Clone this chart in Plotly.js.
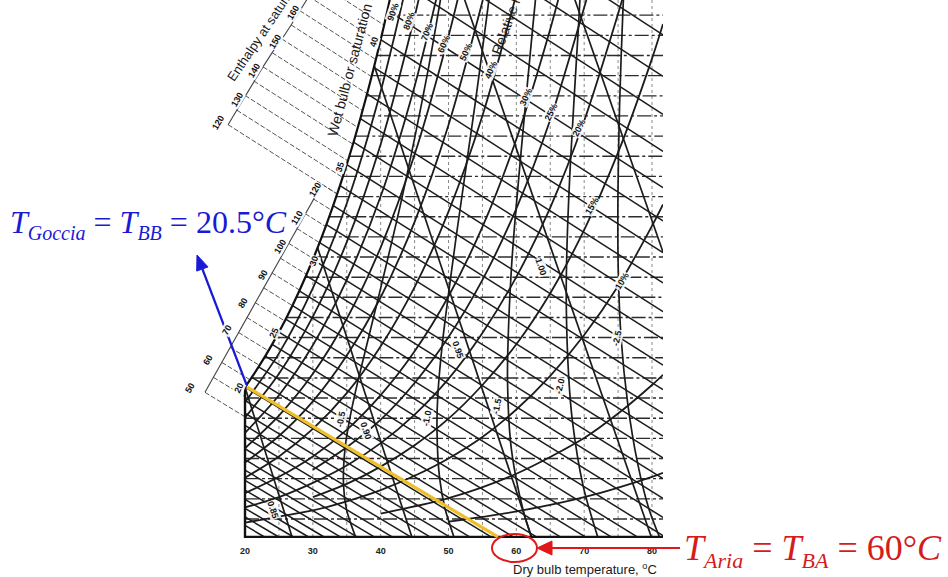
<!DOCTYPE html>
<html>
<head>
<meta charset="utf-8">
<script src="https://cdn.plot.ly/plotly-3.0.1.min.js"></script>
<style>
html,body{margin:0;padding:0;background:#fff;}
#chart{width:948px;height:577px;}
</style>
</head>
<body>
<div id="chart"></div>
<script>
// ---------------- DATA (dry bulb T in °C, humidity H in g water / kg dry air) ----------------
const dryBulbTicks = [20, 30, 40, 50, 60, 70, 80];

// saturation curve
const satT = [20, 22, 24, 26, 28, 30, 32, 34, 36, 38, 40, 41, 42];
const satH = [14.69, 16.67, 18.88, 21.35, 24.12, 27.20, 30.63, 34.44, 38.70, 43.45, 48.75, 51.63, 54.80];

// chart frame (left edge at 20 °C, bottom at H = 0)
const frameT = [20, 20, 81.62];
const frameH = [14.69, 0, 0];

// horizontal humidity grid lines and the dry bulb where each meets saturation
const humidityGrid = [1.76, 3.74, 5.72, 7.69, 9.67, 11.64, 13.62, 15.59, 17.57, 19.55, 21.52, 23.50, 25.47,
  27.45, 29.42, 31.40, 33.37, 35.35, 37.33, 39.30, 41.28, 43.25, 45.23, 47.20, 49.18, 51.16];
const humidityGridDewT = [20, 20, 20, 20, 20, 20, 20, 20.94, 22.84, 24.56, 26.13, 27.57, 28.90,
  30.15, 31.32, 32.42, 33.45, 34.44, 35.37, 36.26, 37.11, 37.92, 38.69, 39.43, 40.15, 40.84];

// vertical dry-bulb grid lines and their top humidity
const dryBulbGrid = [25, 30, 35, 40, 45, 50, 55, 60, 65, 70, 75, 80];
const dryBulbGridTopH = [20.08, 27.20, 36.51, 48.75, 53, 53, 53, 53, 53, 53, 53, 53];

// relative humidity curves
const rhLabels = ['90%', '80%', '70%', '60%', '50%', '40%', '30%', '25%', '20%', '15%', '10%', '5%', '2%'];
const rhT = [
  [20, 25, 30, 35, 40, 44],
  [20, 25, 30, 35, 40, 45, 46],
  [20, 25, 30, 35, 40, 45, 49],
  [20, 25, 30, 35, 40, 45, 50, 52],
  [20, 25, 30, 35, 40, 45, 50, 55, 56],
  [20, 25, 30, 35, 40, 45, 50, 55, 60],
  [20, 25, 30, 35, 40, 45, 50, 55, 60, 65, 67],
  [30, 35, 40, 45, 50, 55, 60, 65, 70, 71],
  [20, 25, 30, 35, 40, 45, 50, 55, 60, 65, 70, 75, 76],
  [30, 35, 40, 45, 50, 55, 60, 65, 70, 75, 80, 81.62],
  [20, 25, 30, 35, 40, 45, 50, 55, 60, 65, 70, 75, 80, 81.62],
  [40, 50, 60, 70, 75, 80, 81.62],
  [50, 60, 70, 80, 81.62]
];
const rhH = [
  [13.2, 18.0, 24.4, 32.7, 43.7, 54.7],
  [11.7, 16.0, 21.6, 28.9, 38.5, 51.0, 53.9],
  [10.2, 13.9, 18.8, 25.2, 33.4, 44.2, 55.0],
  [8.7, 11.9, 16.0, 21.4, 28.4, 37.5, 49.1, 54.5],
  [7.3, 9.9, 13.3, 17.8, 23.5, 30.9, 40.4, 52.5, 55.2],
  [5.8, 7.9, 10.6, 14.1, 18.7, 24.5, 31.9, 41.3, 53.2],
  [4.3, 5.9, 7.9, 10.5, 13.9, 18.2, 23.6, 30.4, 39.0, 49.8, 54.8],
  [6.6, 8.8, 11.5, 15.1, 19.6, 25.2, 32.2, 40.9, 51.9, 54.3],
  [2.9, 3.9, 5.3, 7.0, 9.2, 12.0, 15.5, 20.0, 25.5, 32.3, 40.8, 51.3, 53.6],
  [3.9, 5.2, 6.9, 9.0, 11.6, 14.9, 18.9, 23.9, 30.1, 37.7, 46.9, 50.3],
  [1.4, 2.0, 2.6, 3.5, 4.6, 6.0, 7.7, 9.8, 12.5, 15.8, 19.8, 24.6, 30.5, 32.6],
  [2.3, 3.8, 6.2, 9.7, 12.1, 14.9, 15.9],
  [1.5, 2.5, 3.9, 5.9, 6.3]
];

// wet bulb (adiabatic saturation) lines: start and end points
const wbTw = [7, 8, 9, 10, 11, 12, 13, 14, 15, 16, 17, 18, 19, 20, 21, 22, 23, 24, 25, 26, 27, 28, 29, 30,
  31, 32, 33, 34, 35, 36, 37, 38, 39, 40, 41, 42, 43, 44, 45];
const wbT1 = [20, 20, 20, 20, 20, 20, 20, 20, 20, 20, 20, 20, 20, 20, 21, 22, 23, 24, 25, 26, 27, 28, 29, 30,
  31, 32, 33, 34, 35, 36, 37, 38, 39, 40, 41, 42, 43, 44, 45];
const wbH1 = [1.13, 1.96, 2.81, 3.69, 4.60, 5.56, 6.55, 7.58, 8.65, 9.77, 10.94, 12.13, 13.38, 14.69, 15.65,
  16.67, 17.74, 18.88, 20.08, 21.35, 22.69, 24.12, 25.62, 27.20, 28.86, 30.63, 32.48, 34.44, 36.51, 38.70,
  41.01, 43.45, 46.03, 48.75, 51.63, 54.80, 58.05, 61.37, 65.05];
const wbT2 = [22.88, 24.99, 27.14, 29.37, 31.66, 34.05, 36.50, 39.05, 41.69, 44.43, 47.27, 50.16, 53.11, 56.27,
  59.55, 62.96, 66.48, 70.16, 73.98, 77.82, 81.62, 81.62, 81.62, 81.62, 81.62, 81.62, 81.62, 81.62, 81.62,
  81.62, 81.62, 81.62, 81.62, 81.62, 81.62, 81.62, 81.62, 81.62, 81.62];
const wbH2 = [0, 0, 0, 0, 0, 0, 0, 0, 0, 0, 0, 0, 0, 0, 0, 0, 0, 0, 0, 0, 0.13, 1.92, 3.78, 5.73, 7.75, 9.89,
  12.11, 14.44, 16.84, 19.40, 22.09, 24.91, 27.87, 30.98, 34.24, 37.80, 41.44, 45.16, 49.23];
const wetBulbLabels = [20, 25, 30, 35, 40];

// humid volume lines, m3/kg dry air
const volLabels = ['0.85', '0.90', '0.95', '1.00', '1.05'];
const volT1 = [26.94, 44.60, 62.25, 79.90, 81.62];
const volH1 = [0, 0, 0, 0, 27.93];
const volT2 = [20.0, 30.7, 39.05, 51.68, 67.93];
const volH2 = [14.69, 28.36, 46.2, 54.0, 54.0];

// enthalpy deviation curves, kJ/kg dry air
const devLabels = ['-0.5', '-1.0', '-1.5', '-2.0', '-2.5'];
const devT = [
  [36.3, 34.96, 34.52, 34.75, 35.53, 36.65, 39.57, 43.09, 46.99, 48.63, 49.04],
  [50.8, 49.5, 48.68, 48.3, 48.42, 49.14, 51.18, 53.99, 55.26, 56.26],
  [62.2, 61.19, 59.96, 59.13, 58.7, 58.79, 59.27, 59.84, 60.98, 62.38, 62.9],
  [72.0, 69.85, 68.28, 67.72, 67.36, 67.45, 67.98, 69.2, 69.4],
  [81.1, 79.52, 77.86, 76.4, 75.45, 75.02, 74.98, 75.22, 75.72, 75.9]
];
const devH = [
  [0, 2.69, 5.11, 8.72, 11.89, 15.30, 23.22, 33.10, 45.77, 51.96, 53.6],
  [0, 2.74, 5.81, 10.53, 13.84, 19.24, 29.68, 42.78, 49.11, 54.2],
  [0, 2.16, 5.75, 9.42, 15.26, 19.43, 26.27, 31.33, 39.79, 49.72, 53.22],
  [0, 4.99, 11.28, 15.7, 22.85, 28.1, 36.8, 50.51, 53.0],
  [0, 2.79, 7.29, 13.18, 19.43, 26.3, 33.81, 42.35, 51.78, 54]
];

// enthalpy at saturation scale, kJ/kg dry air (lower and upper scale)
const hLow = [50, 55, 60, 65, 70, 75, 80, 85, 90, 95, 100, 105, 110, 115, 120];
const lowStartT = [14.10, 15.34, 16.57, 17.80, 19.03, 20.27, 21.49, 22.73, 23.95, 25.19, 26.43, 27.65, 28.89, 30.11, 31.35];
const lowStartH = [14.18, 15.65, 17.12, 18.59, 20.05, 21.52, 22.98, 24.44, 25.90, 27.34, 28.79, 30.24, 31.69, 33.13, 34.57];
const lowEndT = [20, 20, 20.75, 22.14, 23.44, 24.69, 25.87, 26.99, 28.06, 29.08, 30.06, 31.00, 31.89, 32.76, 33.59];
const lowEndH = [11.78, 13.75, 15.41, 16.82, 18.25, 19.70, 21.18, 22.68, 24.20, 25.74, 27.29, 28.85, 30.44, 32.03, 33.63];
const hUp = [120, 125, 130, 135, 140, 145, 150, 155, 160, 165, 170];
const upStartT = [17.5, 18.8, 20.0, 21.3, 22.65, 24.0, 25.45, 26.8, 28.1, 29.4, 30.7];
const upStartH = [40.42, 41.84, 43.29, 44.70, 46.09, 47.48, 48.82, 50.20, 51.59, 52.99, 54.38];
const upEndT = [33.59, 34.39, 35.17, 35.91, 36.63, 37.33, 38.0, 38.65, 39.29, 39.90, 40.50];
const upEndH = [33.63, 35.25, 36.87, 38.51, 40.15, 41.80, 43.46, 45.13, 46.81, 48.48, 50.18];
const enthalpyLowLabels = [50, 60, 70, 80, 90, 100, 110, 120];
const enthalpyUpLabels = [120, 130, 140, 150, 160];

// highlighted wet bulb line (drop at 20.5 °C, air at 60 °C)
const highlightT = [20.3, 57.3];
const highlightH = [14.7, 0];

// ---------------- LAYOUT HELPERS ----------------
const PW = 663, PH = 538;           // plot area in px
const RIGHT_EDGE_T = 81.62;
function pp(px, py) { return { x: px / PW, y: 1 - py / PH }; }
function segments(x1, y1, x2, y2) {
  const x = [], y = [];
  x1.forEach((v, i) => { x.push(v, x2[i], null); y.push(y1[i], y2[i], null); });
  return { x, y };
}
function polylines(xs, ys) {
  const x = [], y = [];
  xs.forEach((arr, i) => { x.push(...arr, null); y.push(...ys[i], null); });
  return { x, y };
}
const INK = '#1c1c1c';
function lineTrace(xy, color, width, dash, shape) {
  return { type: 'scatter', mode: 'lines', x: xy.x, y: xy.y, hoverinfo: 'skip',
    line: { color: color, width: width, dash: dash || 'solid', shape: shape || 'linear', smoothing: 0.8 },
    connectgaps: false };
}

const traces = [];
traces.push(lineTrace(segments(dryBulbGrid, dryBulbGrid.map(() => 0), dryBulbGrid, dryBulbGridTopH), '#888', 1, 'dot'));
traces.push(lineTrace(segments(humidityGridDewT, humidityGrid, humidityGrid.map(() => RIGHT_EDGE_T), humidityGrid),
  '#2c2c2c', 1.4, '14px,3px,3px,3px'));
traces.push(lineTrace(segments(lowStartT, lowStartH, lowEndT, lowEndH), '#555', 1, '5px,2px'));
traces.push(lineTrace(segments(upStartT, upStartH, upEndT, upEndH), '#555', 1, '5px,2px'));
traces.push(lineTrace({ x: lowStartT, y: lowStartH }, '#444', 1.1));
traces.push(lineTrace({ x: upStartT, y: upStartH }, '#444', 1.1));
traces.push(lineTrace(polylines(rhT, rhH), INK, 1.8, 'solid', 'spline'));
traces.push(lineTrace(segments(wbT1, wbH1, wbT2, wbH2), INK, 1.5));
traces.push(lineTrace(segments(volT1, volH1, volT2, volH2), INK, 1.7));
traces.push(lineTrace(polylines(devT, devH), INK, 1.7, 'solid', 'spline'));
traces.push(lineTrace({ x: satT, y: satH }, '#111', 2.2, 'solid', 'spline'));
traces.push(lineTrace({ x: frameT, y: frameH }, '#111', 2.4));
traces.push(lineTrace({ x: highlightT, y: highlightH }, '#efbf2a', 3.2));

// ---------------- ANNOTATIONS ----------------
const annotations = [];
function label(text, px, py, angle, size, extra) {
  const p = pp(px, py);
  annotations.push(Object.assign({
    xref: 'paper', yref: 'paper', x: p.x, y: p.y, text: String(text), showarrow: false,
    textangle: angle || 0, xanchor: 'center', yanchor: 'middle', borderpad: 0,
    bgcolor: 'rgba(255,255,255,0.9)',
    font: { family: 'Liberation Sans, Arial, sans-serif', size: size || 9, color: '#111111', weight: 'bold' }
  }, extra || {}));
}
// placement of labels (pixel positions on the picture)
const wetBulbLabelPos = [[239, 388, -65], [274, 333, -65], [314, 261, -70], [340, 167, -72], [374, 42, -75]];
wetBulbLabels.forEach((v, i) => label(v, ...wetBulbLabelPos[i]));
const rhLabelPos = [[393, 12, -70], [409, 21, -70], [427, 32, -68], [444, 44, -66], [466, 52, -66], [491, 70, -66],
  [526, 97, -66], [551, 112, -64], [579, 128, -62], [592, 206, -60], [622, 281, -58]];
rhLabelPos.forEach((p, i) => label(rhLabels[i], ...p));
const volLabelPos = [[273, 510, 72], [366, 431, 72], [458, 350, 72], [541, 267, 72]];
volLabelPos.forEach((p, i) => label(volLabels[i], ...p));
const devLabelPos = [[341, 419, -80], [427, 418, -80], [497, 406, -78], [560, 386, -76], [617, 338, -78]];
devLabelPos.forEach((p, i) => label(devLabels[i], ...p));
const lowLabelPos = [[190, 388], [208, 360], [227, 330], [243, 303], [263, 275], [280, 247], [297, 218], [315, 190]];
lowLabelPos.forEach((p, i) => label(enthalpyLowLabels[i], p[0], p[1], -60));
const upLabelPos = [[218, 123], [237, 100], [254, 71], [275, 42], [293, 13]];
upLabelPos.forEach((p, i) => label(enthalpyUpLabels[i], p[0], p[1], -60));

// axis-type titles (the chart is cropped at its top edge, as in the scan)
const plainTitle = (size) => ({ bgcolor: 'rgba(0,0,0,0)', font: { family: 'Liberation Sans, Arial', size: size, color: '#1a1a1a' } });
label('Wet bulb or saturation temperature, °C', 363, 20, -75, 14, plainTitle(14));
label('Enthalpy at saturation, kJ/kg dry air', 287, -5, -56, 13, plainTitle(13));
label('Relative humidity', 514, 4, -70, 14, plainTitle(14));
label('Dry bulb temperature, <sup>o</sup>C', 585, 569, 0, 13, plainTitle(13));

// coloured callouts
label('<i>T</i><sub><span style="font-size:20px"><i>Goccia</i></span></sub> = <i>T</i><sub><span style="font-size:20px"><i>BB</i></span></sub> = 20.5°<i>C</i>',
  9, 224, 0, 32, { xanchor: 'left', bgcolor: 'rgba(0,0,0,0)',
  font: { family: 'Liberation Serif, Times New Roman, serif', size: 32, color: '#1a1ad4' } });
label('<i>T</i><sub><span style="font-size:22px"><i>Aria</i></span></sub> = <i>T</i><sub><span style="font-size:22px"><i>BA</i></span></sub> = 60°<i>C</i>',
  683, 550, 0, 36, { xanchor: 'left', bgcolor: 'rgba(0,0,0,0)',
  font: { family: 'Liberation Serif, Times New Roman, serif', size: 36, color: '#d41c1c' } });

// ---------------- SHAPES (arrows, ellipse) ----------------
function pathPx(pts) {
  return pts.map((p, i) => { const q = pp(p[0], p[1]); return (i ? 'L' : 'M') + q.x.toFixed(5) + ',' + q.y.toFixed(5); }).join(' ') + ' Z';
}
function lineShape(a, b, color) {
  const p = pp(a[0], a[1]), q = pp(b[0], b[1]);
  return { type: 'line', xref: 'paper', yref: 'paper', x0: p.x, y0: p.y, x1: q.x, y1: q.y, line: { color: color, width: 2.2 }, layer: 'above' };
}
const BLUE = '#1a1ad4', RED = '#e01818';
const e0 = pp(492, 562), e1 = pp(537, 534);
const shapes = [
  lineShape([247, 386], [202.4, 269], BLUE),
  { type: 'path', xref: 'paper', yref: 'paper', path: pathPx([[197, 255], [208, 266.9], [196.7, 271.1]]),
    fillcolor: BLUE, line: { color: BLUE, width: 1 }, layer: 'above' },
  lineShape([680, 548], [551, 548], RED),
  { type: 'path', xref: 'paper', yref: 'paper', path: pathPx([[537, 548], [552, 541], [552, 555]]),
    fillcolor: RED, line: { color: RED, width: 1 }, layer: 'above' },
  { type: 'circle', xref: 'paper', yref: 'paper', x0: e0.x, y0: e0.y, x1: e1.x, y1: e1.y,
    line: { color: RED, width: 2 }, layer: 'above' }
];

const layout = {
  width: 948, height: 577,
  margin: { l: 0, r: 948 - PW, t: 0, b: 577 - PH },
  paper_bgcolor: '#ffffff', plot_bgcolor: '#ffffff',
  showlegend: false,
  xaxis: {
    range: [-16.12, RIGHT_EDGE_T], showgrid: false, zeroline: false, showline: false, ticks: '',
    tickvals: dryBulbTicks, ticktext: dryBulbTicks.map(String), ticklabelstandoff: 6,
    tickfont: { family: 'Liberation Sans, Arial', size: 9, color: '#222', weight: 'bold' }, fixedrange: true
  },
  yaxis: { range: [-0.1, 52.645], visible: false, fixedrange: true },
  annotations: annotations,
  shapes: shapes
};

Plotly.newPlot('chart', traces, layout, { staticPlot: true, displayModeBar: false });
</script>
</body>
</html>
